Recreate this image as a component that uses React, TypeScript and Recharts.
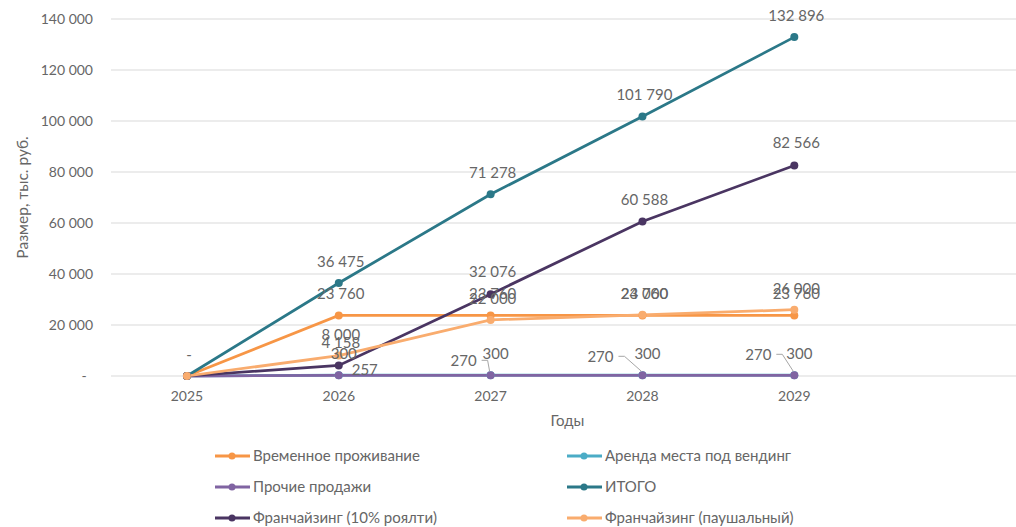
import React from 'react';
import { LineChart, Line, XAxis, YAxis, CartesianGrid, LabelList } from 'recharts';

// Revenue forecast by stream, thousands of rubles
const years = [2025, 2026, 2027, 2028, 2029];
const vremennoe = [0, 23760, 23760, 23760, 23760];
const vending = [0, 300, 300, 300, 300];
const prochie = [0, 257, 270, 270, 270];
const itogo = [0, 36475, 71278, 101790, 132896];
const royalty = [0, 4158, 32076, 60588, 82566];
const paushal = [0, 8000, 22000, 24000, 26000];

const yTicks = [0, 20000, 40000, 60000, 80000, 100000, 120000, 140000];

const FONT = 'Lato, "Open Sans", sans-serif';
const TEXT = '#666666';

type SeriesDef = {
  key: string;
  name: string;
  color: string;
  values: number[];
};

// drawing order = legend order (row-major, two columns)
const series: SeriesDef[] = [
  { key: 'vremennoe', name: 'Временное проживание', color: '#F79646', values: vremennoe },
  { key: 'vending', name: 'Аренда места под вендинг', color: '#4BACC6', values: vending },
  { key: 'prochie', name: 'Прочие продажи', color: '#8064A2', values: prochie },
  { key: 'itogo', name: 'ИТОГО', color: '#2B7888', values: itogo },
  { key: 'royalty', name: 'Франчайзинг (10% роялти)', color: '#4A3562', values: royalty },
  { key: 'paushal', name: 'Франчайзинг (паушальный)', color: '#F9AC6E', values: paushal },
];

const data = years.map((year, i) => {
  const row: Record<string, number> = { year };
  series.forEach((s) => {
    row[s.key] = s.values[i];
  });
  return row;
});

const fmt = (v: number) =>
  v === 0 ? '-' : String(v).replace(/\B(?=(\d{3})+(?!\d))/g, ' ');

// label placement relative to each point (centre of the text)
type Place = { dx: number; dy: number };
const defaultPlace: Place = { dx: 2, dy: -21 };
const placement: Record<string, (i: number) => Place | null> = {
  itogo: () => defaultPlace,
  vremennoe: (i) => (i === 0 ? null : defaultPlace),
  paushal: (i) => (i === 0 ? null : defaultPlace),
  royalty: (i) => (i === 0 ? null : { dx: 2, dy: -22 }),
  vending: (i) => (i === 0 ? null : { dx: 5, dy: -21 }),
  prochie: (i) => {
    const p: (Place | null)[] = [
      null,
      { dx: 26, dy: -5 },
      { dx: -27, dy: -14 },
      { dx: -42, dy: -18 },
      { dx: -36, dy: -20 },
    ];
    return p[i];
  },
};

const makeLabel = (key: string) => (props: any) => {
  const { x, y, value, index } = props;
  const place = placement[key](index);
  if (!place || x == null || y == null) return null;
  const cx = x + place.dx;
  const cy = y + place.dy;
  const leader =
    place.dx < -20 ? (
      <polyline
        points={`${cx + 18},${cy - 1} ${cx + 24},${cy - 1} ${x - 1},${y - 4}`}
        fill="none"
        stroke="#A6A6A6"
        strokeWidth={1}
      />
    ) : null;
  return (
    <g key={`${key}-${index}`}>
      {leader}
      <text
        x={cx}
        y={cy + 5}
        textAnchor="middle"
        fontFamily={FONT}
        fontSize={15}
        fill={TEXT}
      >
        {fmt(value)}
      </text>
    </g>
  );
};

const XTick = (props: any) => {
  const { x, y, payload } = props;
  return (
    <text x={x} y={y + 25} textAnchor="middle" fontFamily={FONT} fontSize={14} fill={TEXT}>
      {payload.value}
    </text>
  );
};

const YTick = (props: any) => {
  const { x, y, payload } = props;
  const v = payload.value as number;
  if (v === 0) {
    return (
      <text x={x - 27} y={y + 5} textAnchor="middle" fontFamily={FONT} fontSize={14} fill={TEXT}>
        -
      </text>
    );
  }
  return (
    <text x={x - 18} y={y + 5} textAnchor="end" fontFamily={FONT} fontSize={14} fill={TEXT}>
      {fmt(v)}
    </text>
  );
};

const YTitle = (props: any) => {
  const vb = props.viewBox || { x: 0, y: 0, width: 0, height: 0 };
  const cx = vb.x + 22;
  const cy = vb.y + vb.height / 2;
  return (
    <text
      x={cx}
      y={cy}
      transform={`rotate(-90 ${cx} ${cy})`}
      textAnchor="middle"
      dominantBaseline="central"
      fontFamily={FONT}
      fontSize={15.5}
      fill={TEXT}
    >
      Размер, тыс. руб.
    </text>
  );
};

const XTitle = (props: any) => {
  const vb = props.viewBox || { x: 0, y: 0, width: 0, height: 0 };
  const cx = vb.x + vb.width / 2 + 4;
  const cy = vb.y + 50;
  return (
    <text x={cx} y={cy} textAnchor="middle" fontFamily={FONT} fontSize={15} fill={TEXT}>
      Годы
    </text>
  );
};

const LegendBlock = () => {
  const cols = [215, 567];
  const rows = [456, 487, 518];
  return (
    <svg
      width={1016}
      height={527}
      style={{ position: 'absolute', left: 0, top: 0, pointerEvents: 'none' }}
    >
      {series.map((s, i) => {
        const lx = cols[i % 2];
        const ly = rows[Math.floor(i / 2)];
        return (
          <g key={s.key}>
            <line x1={lx} y1={ly} x2={lx + 35} y2={ly} stroke={s.color} strokeWidth={3} />
            <circle cx={lx + 17} cy={ly} r={3.5} fill={s.color} />
            <text x={lx + 38} y={ly + 5} fontFamily={FONT} fontSize={15} fill={TEXT}>
              {s.name}
            </text>
          </g>
        );
      })}
    </svg>
  );
};

export default function App() {
  return (
    <div
      style={{
        position: 'absolute',
        left: 0,
        top: 0,
        width: 1016,
        height: 527,
        background: '#FFFFFF',
        fontFamily: FONT,
      }}
    >
      <LineChart
        width={1016}
        height={527}
        data={data}
        margin={{ top: 19, right: 0, bottom: 121, left: 0 }}
      >
        <CartesianGrid vertical={false} stroke="#D9D9D9" strokeWidth={1} />
        <XAxis
          dataKey="year"
          type="number"
          domain={[2024.5, 2030.46]}
          ticks={years}
          allowDataOverflow
          axisLine={false}
          tickLine={false}
          tickSize={0}
          tickMargin={0}
          height={30}
          tick={<XTick />}
          label={{ content: <XTitle /> } as any}
        />
        <YAxis
          type="number"
          domain={[0, 140000]}
          ticks={yTicks}
          axisLine={false}
          tickLine={false}
          tickSize={0}
          tickMargin={0}
          width={111}
          tick={<YTick />}
          label={{ content: <YTitle /> } as any}
        />
        {series.map((s) => (
          <Line
            key={s.key}
            dataKey={s.key}
            name={s.name}
            type="linear"
            stroke={s.color}
            strokeWidth={2.75}
            dot={{ r: 4, fill: s.color, stroke: s.color, strokeWidth: 0 }}
            activeDot={false}
            isAnimationActive={false}
          >
            <LabelList dataKey={s.key} content={makeLabel(s.key)} />
          </Line>
        ))}
      </LineChart>
      <LegendBlock />
    </div>
  );
}
